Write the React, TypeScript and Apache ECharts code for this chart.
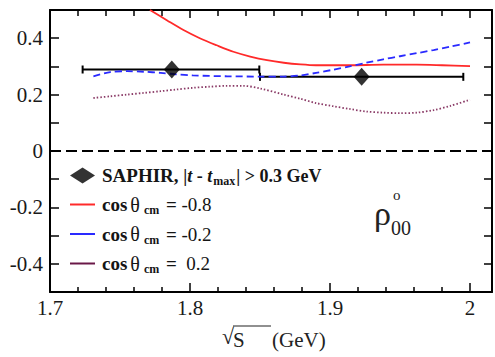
import React, { useEffect, useRef } from 'react';
import * as echarts from 'echarts';

// Theory curves (sqrt(s) in GeV, rho00)
const redX = [1.7714, 1.784, 1.795, 1.807, 1.819, 1.831, 1.843, 1.855, 1.867, 1.879, 1.89, 1.914, 1.938, 1.962, 1.98, 2.0];
const redY = [0.5, 0.462, 0.43, 0.4, 0.375, 0.352, 0.335, 0.322, 0.313, 0.307, 0.304, 0.304, 0.306, 0.306, 0.304, 0.301];

const blueX = [1.731, 1.743, 1.755, 1.767, 1.779, 1.79, 1.802, 1.826, 1.85, 1.867, 1.879, 1.89, 1.902, 1.914, 1.926, 1.938, 1.95, 1.962, 1.974, 1.986, 2.0];
const blueY = [0.265, 0.28, 0.283, 0.281, 0.277, 0.272, 0.268, 0.265, 0.264, 0.264, 0.268, 0.277, 0.288, 0.3, 0.313, 0.325, 0.336, 0.347, 0.358, 0.37, 0.385];

const purpleX = [1.731, 1.743, 1.755, 1.767, 1.779, 1.79, 1.802, 1.814, 1.826, 1.838, 1.85, 1.867, 1.879, 1.89, 1.902, 1.914, 1.926, 1.938, 1.95, 1.962, 1.974, 1.986, 2.0];
const purpleY = [0.188, 0.194, 0.2, 0.206, 0.212, 0.218, 0.224, 0.228, 0.231, 0.231, 0.222, 0.2, 0.185, 0.17, 0.159, 0.149, 0.14, 0.136, 0.134, 0.136, 0.145, 0.16, 0.182];

// SAPHIR data with horizontal bin widths
const saphirX = [1.787, 1.9226];
const saphirY = [0.289, 0.263];
const saphirLo = [1.7233, 1.85];
const saphirHi = [1.8495, 1.9952];

// Legend entries
const legendSaphir = 'SAPHIR';
const legendCos = ['-0.8', '-0.2', ' 0.2'];

const xMin = 1.7;
const xMax = 2.0157;
const yMin = -0.5;
const yMax = 0.5;

const FONT = 'Liberation Serif';

const fmtX = (v: number) => {
  const r = Math.round(v * 100) / 100;
  return '{t|' + String(r) + '}';
};
const fmtY = (v: number) => {
  const k = Math.round(v * 10);
  if (Math.abs(k) % 2 === 1) return '';
  return '{t|' + String(k / 10) + '}';
};

const LINE_ICON = 'path://M0,0H25V2H0Z';
const cosName = (v: string) => 'cos=' + v;

export default function App() {
  const ref = useRef<HTMLDivElement>(null);
  useEffect(() => {
    if (!ref.current) return;
    const chart = echarts.init(ref.current, undefined, { renderer: 'svg' });
    const zip = (xs: number[], ys: number[]) => xs.map((x, i) => [x, ys[i]]);
    const axisCommon = {
      type: 'value' as const,
      axisLine: { show: true, onZero: false, lineStyle: { color: '#000', width: 2 } },
      splitLine: { show: false },
      minorSplitLine: { show: false },
    };
    const labelRich = { t: { fontSize: 21, fontFamily: FONT, color: '#1a1a1a' } };
    const C = '#151515';
    const option: any = {
      animation: false,
      backgroundColor: '#fff',
      textStyle: { fontFamily: FONT, color: '#1a1a1a' },
      grid: { left: 50, top: 10, right: 3, bottom: 65, containLabel: false },
      xAxis: [
        {
          ...axisCommon,
          position: 'bottom',
          min: xMin,
          max: xMax,
          interval: 0.1,
          axisTick: { show: true, inside: true, length: 9, lineStyle: { color: '#000', width: 1.5 } },
          minorTick: { show: true, splitNumber: 5, length: 5, lineStyle: { color: '#000', width: 1.5 } },
          axisLabel: { show: true, margin: 5, fontSize: 21, fontFamily: FONT, rich: labelRich, formatter: fmtX, showMaxLabel: false },
        },
        {
          ...axisCommon,
          position: 'top',
          min: xMin,
          max: xMax,
          interval: 0.1,
          axisTick: { show: true, inside: true, length: 8, lineStyle: { color: '#000', width: 1.5 } },
          minorTick: { show: true, splitNumber: 5, length: 6, lineStyle: { color: '#000', width: 1.5 } },
          axisLabel: { show: false },
        },
      ],
      yAxis: [
        {
          ...axisCommon,
          position: 'left',
          min: yMin,
          max: yMax,
          interval: 0.1,
          axisTick: { show: true, inside: true, length: 9, lineStyle: { color: '#000', width: 1.5 } },
          axisLabel: { show: true, margin: 7, fontSize: 21, fontFamily: FONT, rich: labelRich, formatter: fmtY },
        },
        {
          ...axisCommon,
          position: 'right',
          min: yMin,
          max: yMax,
          interval: 0.1,
          axisTick: { show: true, inside: true, length: 8, lineStyle: { color: '#000', width: 1.5 } },
          axisLabel: { show: false },
        },
      ],
      legend: {
        orient: 'vertical',
        left: 70,
        top: 166,
        itemWidth: 25,
        itemHeight: 16,
        itemGap: 8,
        padding: 0,
        symbolKeepAspect: true,
        textStyle: {
          fontFamily: FONT,
          fontSize: 19,
          color: C,
          rich: {
            b: { fontFamily: FONT, fontSize: 19, fontWeight: 'bold', color: C, padding: [0, 0, 0, 2] },
            s: { fontFamily: FONT, fontSize: 18, fontWeight: 'bold', color: C },
            si: { fontFamily: FONT, fontSize: 18, fontWeight: 'bold', fontStyle: 'italic', color: C },
            ssub: { fontFamily: FONT, fontSize: 12, fontWeight: 'bold', color: C, padding: [10, 1, 0, 1] },
            c: { fontFamily: FONT, fontSize: 19, fontWeight: 'bold', color: C, padding: [0, 0, 0, 2] },
            th: { fontFamily: FONT, fontSize: 20, color: C, padding: [0, 3, 0, 3] },
            sub: { fontFamily: FONT, fontSize: 12, fontWeight: 'bold', color: C, padding: [11, 2, 0, 1] },
            eq: { fontFamily: FONT, fontSize: 19, fontWeight: 'bold', color: C },
            v: { fontFamily: FONT, fontSize: 19, color: C },
          },
        },
        formatter: (name: string) => {
          if (name === legendSaphir) {
            return '{b|SAPHIR,} {s||}{si|t}{s| - }{si|t}{ssub|max}{s|| > 0.3 GeV}';
          }
          const v = name.split('=')[1];
          return '{c|cos}{th|\u03b8}{sub|cm}{eq| = }{v|' + v + '}';
        },
        data: [
          { name: legendSaphir, icon: 'diamond' },
          ...legendCos.map((v) => ({ name: cosName(v), icon: LINE_ICON })),
        ],
      },
      graphic: [
        { type: 'text', left: 374, top: 196, style: { text: '\u03c1', fontSize: 34, fontFamily: FONT, fill: '#222' } },
        { type: 'text', left: 393, top: 187, style: { text: 'o', fontSize: 15, fontFamily: FONT, fill: '#222' } },
        { type: 'text', left: 391, top: 218, style: { text: '00', fontSize: 20, fontFamily: FONT, fill: '#222' } },
        { type: 'text', left: 222, top: 325, style: { text: '\u221a', fontSize: 22, fontFamily: FONT, fill: '#222' } },
        { type: 'line', shape: { x1: 233, y1: 326, x2: 271, y2: 326 }, style: { stroke: '#222', lineWidth: 1.2 } },
        { type: 'text', left: 233, top: 329, style: { text: 'S', fontSize: 21, fontFamily: FONT, fill: '#222' } },
        { type: 'text', left: 272, top: 329, style: { text: '(GeV)', fontSize: 21, fontFamily: FONT, fill: '#222' } },
      ],
      series: [
        {
          name: 'zero',
          type: 'line',
          data: [[xMin, 0], [xMax, 0]],
          symbol: 'none',
          lineStyle: { color: '#000', width: 2, type: [11, 5] },
          silent: true,
        },
        {
          name: cosName(legendCos[0]),
          type: 'line',
          data: zip(redX, redY),
          symbol: 'none',
          smooth: 0.3,
          color: '#ff2a2a',
          lineStyle: { color: '#ff2a2a', width: 1.8 },
        },
        {
          name: cosName(legendCos[1]),
          type: 'line',
          data: zip(blueX, blueY),
          symbol: 'none',
          smooth: 0.3,
          color: '#2a2aff',
          lineStyle: { color: '#2a2aff', width: 1.8, type: [7, 4] },
        },
        {
          name: cosName(legendCos[2]),
          type: 'line',
          data: zip(purpleX, purpleY),
          symbol: 'none',
          smooth: 0.3,
          color: '#6a1848',
          lineStyle: { color: '#8a3a66', width: 1.8, type: [1.5, 2] },
        },
        {
          name: 'errbars',
          type: 'custom',
          data: saphirX.map((x, i) => [x, saphirY[i], saphirLo[i], saphirHi[i]]),
          encode: { x: [0, 2, 3], y: 1 },
          renderItem: (params: any, api: any) => {
            const y = api.value(1);
            const lo = api.coord([api.value(2), y]);
            const hi = api.coord([api.value(3), y]);
            const h = 4;
            return {
              type: 'group',
              children: [
                { type: 'line', shape: { x1: lo[0], y1: lo[1], x2: hi[0], y2: hi[1] }, style: { stroke: '#000', lineWidth: 2 } },
                { type: 'line', shape: { x1: lo[0], y1: lo[1] - h, x2: lo[0], y2: lo[1] + h }, style: { stroke: '#000', lineWidth: 2 } },
                { type: 'line', shape: { x1: hi[0], y1: hi[1] - h, x2: hi[0], y2: hi[1] + h }, style: { stroke: '#000', lineWidth: 2 } },
              ],
            };
          },
          z: 3,
        },
        {
          name: legendSaphir,
          type: 'scatter',
          data: zip(saphirX, saphirY),
          symbol: 'diamond',
          symbolSize: [16, 18],
          color: '#000',
          itemStyle: { color: '#000' },
          z: 4,
        },
      ],
    };
    chart.setOption(option);
    return () => chart.dispose();
  }, []);
  return <div ref={ref} style={{ width: 495, height: 357, position: 'absolute', left: 0, top: 0 }} />;
}
